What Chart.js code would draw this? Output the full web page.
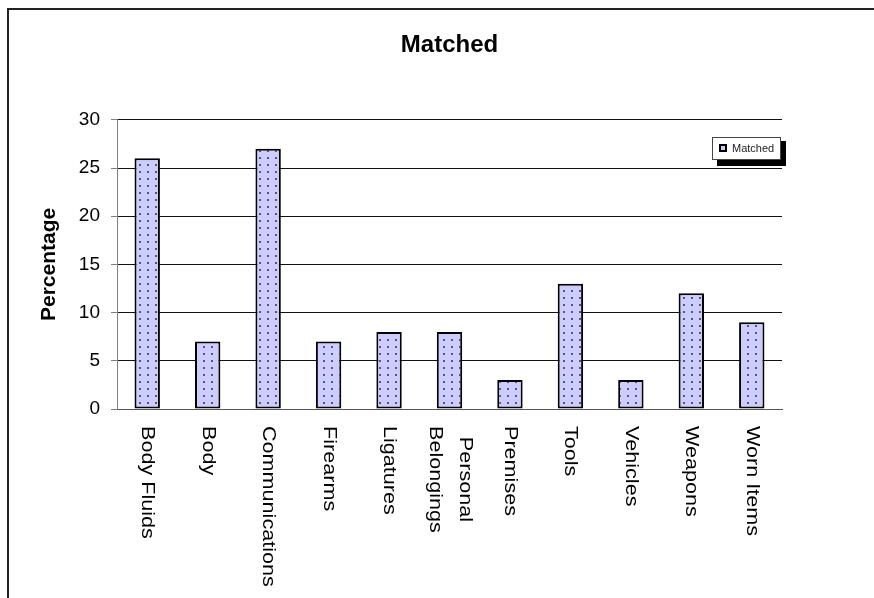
<!DOCTYPE html>
<html>
<head>
<meta charset="utf-8">
<title>Matched</title>
<script src="https://cdn.jsdelivr.net/npm/chart.js@4.4.0/dist/chart.umd.min.js"></script>
<style>
  html, body { margin: 0; padding: 0; background: #fff; }
  #c { display: block; }
</style>
</head>
<body>
<canvas id="c" width="874" height="598"></canvas>
<script>
const categories = ['Body Fluids', 'Body', 'Communications', 'Firearms', 'Ligatures', ['Personal', 'Belongings'], 'Premises', 'Tools', 'Vehicles', 'Weapons', 'Worn Items'];
const matched = [26, 7, 27, 7, 8, 8, 3, 13, 3, 12, 9];
const yTicks = [0, 5, 10, 15, 20, 25, 30];

const FONT = "'Liberation Sans', Arial, sans-serif";
const canvas = document.getElementById('c');
const ctx = canvas.getContext('2d');

// lavender fill with small dark dots, like the old Excel pattern
function dotPattern() {
  const t = document.createElement('canvas');
  t.width = 8;
  t.height = 7;
  const g = t.getContext('2d');
  g.fillStyle = '#ccccff';
  g.fillRect(0, 0, 8, 7);
  g.fillStyle = '#55557f';
  g.fillRect(3, 3, 2, 2);
  return ctx.createPattern(t, 'repeat');
}

//// frame around the whole chart
const frame = {
  id: 'frame',
  beforeDraw(chart) {
    const c = chart.ctx;
    c.save();
    c.fillStyle = '#fff';
    c.fillRect(0, 0, chart.width, chart.height);
    c.strokeStyle = '#222';
    c.lineWidth = 2;
    c.strokeRect(8, 9, chart.width + 20, chart.height + 20);
    c.restore();
  }
};

//// category labels, rotated to read top-down
const catLabels = {
  id: 'catLabels',
  afterDraw(chart) {
    const c = chart.ctx;
    const xs = chart.scales.x;
    const top = chart.chartArea.bottom + 17;
    c.save();
    c.font = '18px ' + FONT;
    c.fillStyle = '#000';
    c.textBaseline = 'middle';
    c.textAlign = 'left';
    chart.data.labels.forEach((lab, i) => {
      const lines = Array.isArray(lab) ? lab : [lab];
      const widths = lines.map((l) => c.measureText(l).width);
      const maxW = Math.max(...widths);
      const x = xs.getPixelForTick(i);
      lines.forEach((line, j) => {
        c.save();
        c.translate(x, top);
        c.rotate(Math.PI / 2);
        c.scale(1.2, 1);
        const off = (j - (lines.length - 1) / 2) * 30;
        c.fillText(line, (maxW - widths[j]) / 2, off);
        c.restore();
      });
    });
    c.restore();
  }
};

//// legend box with drop shadow
const legendBox = {
  id: 'legendBox',
  afterDraw(chart) {
    const c = chart.ctx;
    const x = 712, y = 137, w = 68, h = 22;
    c.save();
    c.fillStyle = '#000';
    c.fillRect(x + 5, y + 4, w + 1, h + 3);
    c.fillStyle = '#fff';
    c.fillRect(x, y, w, h);
    c.strokeStyle = '#444';
    c.lineWidth = 1;
    c.strokeRect(x + 0.5, y + 0.5, w, h);
    c.fillStyle = '#000';
    c.fillRect(x + 7, y + 7, 8, 8);
    c.fillStyle = '#ccccff';
    c.fillRect(x + 9, y + 9, 4, 4);
    c.fillStyle = '#222';
    c.font = '11px ' + FONT;
    c.textBaseline = 'middle';
    c.fillText(chart.data.datasets[0].label, x + 20, y + h / 2 + 0.5);
    c.restore();
  }
};

new Chart(canvas, {
  type: 'bar',
  data: {
    labels: categories,
    datasets: [
      {
        label: 'Matched',
        data: matched,
        backgroundColor: dotPattern(),
        borderColor: '#000',
        borderWidth: 2,
        borderSkipped: false,
        barPercentage: 0.42,
        categoryPercentage: 1.0,
      },
    ],
  },
  options: {
    responsive: false,
    animation: false,
    layout: { padding: { top: 31, right: 92, bottom: 189, left: 0 } },
    plugins: {
      legend: { display: false },
      tooltip: { enabled: false },
      title: {
        display: true,
        text: 'Matched',
        fullSize: false,
        color: '#000',
        font: { family: FONT, size: 24, weight: 'bold' },
        padding: { top: 0, bottom: 60 },
      },
    },
    scales: {
      x: {
        grid: { display: false },
        border: { color: '#555', width: 1 },
        ticks: { display: false },
        afterFit: (s) => { s.height = 0; },
      },
      y: {
        min: 0,
        max: 30,
        afterBuildTicks: (s) => { s.ticks = yTicks.map((v) => ({ value: v })); },
        grid: { color: '#111', tickColor: '#808080', tickLength: 6 },
        border: { color: '#808080', width: 1 },
        ticks: {
          color: '#000',
          padding: 11,
          font: { family: FONT, size: 19 },
        },
        title: {
          display: true,
          text: 'Percentage',
          color: '#000',
          font: { family: FONT, size: 21, weight: 'bold' },
          padding: { top: 37, bottom: 0 },
        },
        afterFit: (s) => { s.width = 117; },
      },
    },
  },
  plugins: [frame, catLabels, legendBox],
});
</script>
</body>
</html>
